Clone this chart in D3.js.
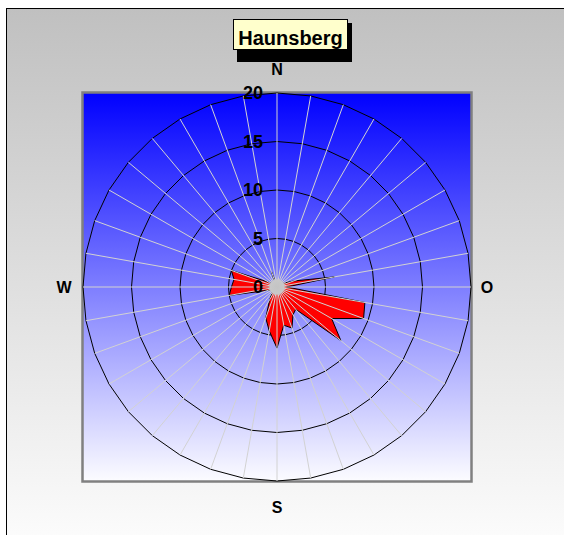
<!DOCTYPE html>
<html>
<head>
<meta charset="utf-8">
<script src="https://cdn.jsdelivr.net/npm/d3@7"></script>
<style>
  html, body { margin: 0; padding: 0; background: #fff; }
  svg { display: block; font-family: "Liberation Sans", Arial, sans-serif; }
</style>
</head>
<body>
<svg id="chart" width="564" height="535"></svg>
<script>
// Wind direction sectors (degrees clockwise from north)
const directions = d3.range(0, 360, 10);
// Frequency per sector (%)
const frequency = [
  0.3, 0.3, 0.3, 0.4, 0.4, 0.5, 0.8, 1.8, 6.0, 1.0,
  9.2, 9.5, 6.5, 8.6, 3.0, 3.3, 4.5, 4.0, 6.3, 4.6,
  3.4, 1.5, 0.8, 0.5, 0.6, 1.0, 5.0, 4.7, 4.5, 5.0,
  1.0, 0.4, 0.3, 0.3, 1.7, 0.3
];
const ringTicks = [0, 5, 10, 15, 20];
const compassLabels = ["N", "O", "S", "W"];
const compassAngles = [0, 90, 180, 270];
const title = "Haunsberg";

const svg = d3.select("#chart");
const defs = svg.append("defs");

const bgGrad = defs.append("linearGradient").attr("id", "bgGrad")
  .attr("x1", 0).attr("y1", 0).attr("x2", 0).attr("y2", 1);
bgGrad.append("stop").attr("offset", "0%").attr("stop-color", "#c0c0c0");
bgGrad.append("stop").attr("offset", "100%").attr("stop-color", "#ffffff");

const plotGrad = defs.append("linearGradient").attr("id", "plotGrad")
  .attr("x1", 0).attr("y1", 0).attr("x2", 0).attr("y2", 1);
plotGrad.append("stop").attr("offset", "0%").attr("stop-color", "#0000ff");
plotGrad.append("stop").attr("offset", "100%").attr("stop-color", "#fcfcff");

const hubGrad = defs.append("radialGradient").attr("id", "hubGrad");
hubGrad.append("stop").attr("offset", "0%").attr("stop-color", "#c4c4c4");
hubGrad.append("stop").attr("offset", "75%").attr("stop-color", "#c8c8c8");
hubGrad.append("stop").attr("offset", "100%").attr("stop-color", "#c8c8c8").attr("stop-opacity", 0);

// Chart area
svg.append("rect")
  .attr("x", 6.5).attr("y", 8.5).attr("width", 580).attr("height", 560)
  .attr("fill", "url(#bgGrad)").attr("stroke", "#000").attr("stroke-width", 1);

// Polar geometry
const cx = 277, cy = 287;
const r = d3.scaleLinear().domain([0, 20]).range([0, 194]);
const angle = d3.scaleLinear().domain([0, 360]).range([0, 2 * Math.PI]);

// Plot area
svg.append("rect")
  .attr("x", cx - r(20) - 0.5).attr("y", cy - r(20) - 0.5)
  .attr("width", 2 * r(20) + 1).attr("height", 2 * r(20) + 1)
  .attr("fill", "url(#plotGrad)")
  .attr("stroke", "#808080").attr("stroke-width", 2.5);

const g = svg.append("g").attr("transform", `translate(${cx},${cy})`);

const ringLine = d3.lineRadial()
  .angle(d => angle(d))
  .curve(d3.curveLinearClosed);

// Rings
g.selectAll("path.ring")
  .data(ringTicks.filter(t => t > 0))
  .join("path")
  .attr("class", "ring")
  .attr("d", t => ringLine.radius(r(t))(directions))
  .attr("fill", "none")
  .attr("stroke", "#000")
  .attr("stroke-width", 1);

// Frequency polygon
const areaLine = d3.lineRadial()
  .angle((d, i) => angle(directions[i]))
  .radius(d => r(d))
  .curve(d3.curveLinearClosed);

g.append("path")
  .attr("d", areaLine(frequency))
  .attr("fill", "#ff0000")
  .attr("stroke", "#000")
  .attr("stroke-width", 1)
  .attr("stroke-linejoin", "miter");

// Spokes
g.selectAll("line.spoke")
  .data(directions)
  .join("line")
  .attr("class", "spoke")
  .attr("x1", 0).attr("y1", 0)
  .attr("x2", d => r(20) * Math.sin(angle(d)))
  .attr("y2", d => -r(20) * Math.cos(angle(d)))
  .attr("stroke", "#d2d2d2")
  .attr("stroke-width", 1);

// Hub
g.append("circle").attr("r", 9).attr("fill", "url(#hubGrad)");

// Scale labels
g.selectAll("text.tick")
  .data(ringTicks)
  .join("text")
  .attr("class", "tick")
  .attr("x", -14)
  .attr("y", t => -r(t))
  .attr("dy", "0.36em")
  .attr("text-anchor", "end")
  .attr("font-size", 18)
  .attr("font-weight", "bold")
  .attr("fill", "#000")
  .text(t => t);

// Compass labels
const labelR = [218, 210, 220, 213];
g.selectAll("text.compass")
  .data(compassLabels)
  .join("text")
  .attr("class", "compass")
  .attr("x", (d, i) => labelR[i] * Math.sin(angle(compassAngles[i])))
  .attr("y", (d, i) => -labelR[i] * Math.cos(angle(compassAngles[i])))
  .attr("dy", "0.36em")
  .attr("text-anchor", "middle")
  .attr("font-size", 16)
  .attr("font-weight", "bold")
  .attr("fill", "#000")
  .text(d => d);

// Title box with shadow
svg.append("rect")
  .attr("x", 237).attr("y", 23).attr("width", 115).attr("height", 39)
  .attr("fill", "#000");
svg.append("rect")
  .attr("x", 233.5).attr("y", 19.5).attr("width", 114).attr("height", 30)
  .attr("fill", "#ffffcc").attr("stroke", "#000").attr("stroke-width", 1);
svg.append("text")
  .attr("x", 290.5).attr("y", 45)
  .attr("text-anchor", "middle")
  .attr("font-size", 20)
  .attr("font-weight", "bold")
  .attr("fill", "#000")
  .text(title);
</script>
</body>
</html>
